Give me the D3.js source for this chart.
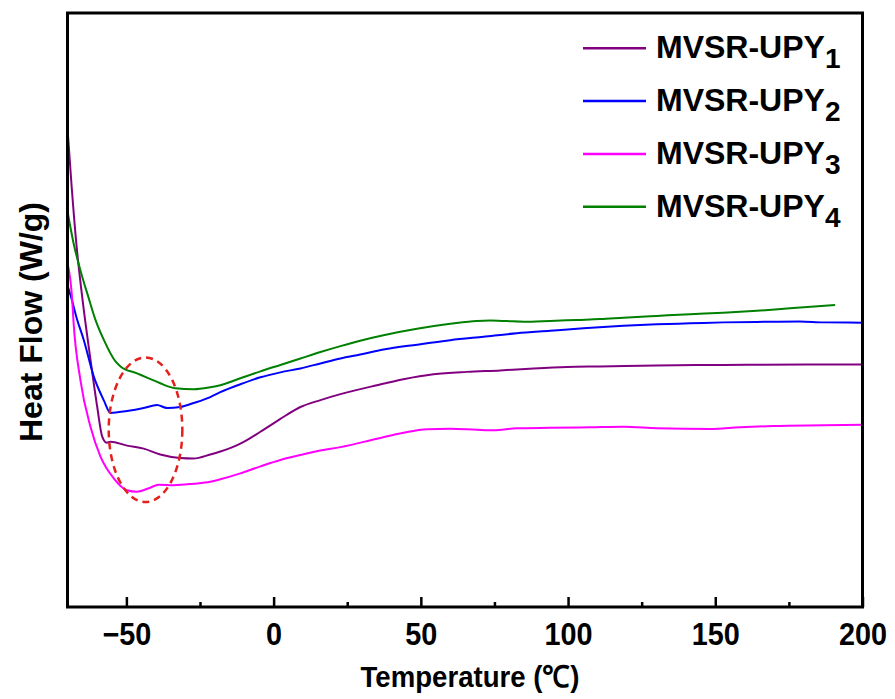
<!DOCTYPE html>
<html>
<head>
<meta charset="utf-8">
<script src="https://cdn.jsdelivr.net/npm/d3@7"></script>
<style>
  body { margin: 0; background: #fff; }
  svg text { font-family: Arial, "Liberation Sans", sans-serif; font-weight: bold; fill: #000; }
</style>
</head>
<body>
<svg id="chart" width="895" height="699"></svg>
<script>
// ---- data (Temperature °C, Heat Flow in arbitrary W/g units) ----
const seriesNames = ["MVSR-UPY", "MVSR-UPY", "MVSR-UPY", "MVSR-UPY"];
const seriesSubs = ["1", "2", "3", "4"];
const seriesColors = ["#800080", "#0000ff", "#ff00ff", "#008000"];

const upy1 = [
  [-69.8,4.75],[-68.6,4.25],[-66.9,3.64],[-65.0,3.13],[-62.2,2.50],[-59.9,2.02],[-58.2,1.72],
  [-56.7,1.66],[-55.4,1.67],[-49.8,1.63],[-44.1,1.60],[-38.5,1.54],[-31.7,1.505],[-27.2,1.50],
  [-21.5,1.54],[-18.1,1.57],[-11.3,1.65],[-4.5,1.77],[2.3,1.90],[9.1,2.02],
  [15.9,2.09],[22.7,2.15],[35.1,2.24],[44.1,2.30],[54.3,2.35],[65.6,2.375],
  [77.0,2.39],[88.3,2.41],[99.6,2.425],[110.9,2.43],[130.1,2.44],[152.7,2.445],[181.1,2.45],[200,2.45]
];
const upy2 = [
  [-69.8,3.23],[-68.5,3.10],[-66.9,2.92],[-64.5,2.70],[-61.1,2.33],[-57.7,2.09],
  [-55.4,1.96],[-49.8,1.98],[-44.1,2.01],[-39.6,2.04],[-36.2,2.01],[-31.7,2.02],[-27.2,2.06],
  [-21.5,2.12],[-18.1,2.17],[-11.3,2.25],[-4.5,2.32],[2.3,2.37],[9.1,2.41],[15.9,2.46],
  [22.7,2.51],[29.4,2.55],[37.3,2.60],[48.7,2.65],[60.0,2.695],[71.3,2.73],[82.6,2.765],
  [93.9,2.79],[105.2,2.815],[118.8,2.84],[130.1,2.855],[141.4,2.865],[152.7,2.875],[164.1,2.88],
  [178.7,2.885],[186.7,2.875],[200,2.872]
];
const upy3 = [
  [-69.9,3.46],[-68.4,3.10],[-68.0,2.90],[-65.6,2.29],[-62.2,1.82],[-58.8,1.52],[-54.3,1.30],
  [-49.8,1.18],[-46.4,1.165],[-42.4,1.20],[-39.0,1.235],[-33.9,1.23],[-27.2,1.245],[-21.5,1.265],
  [-18.1,1.29],[-11.3,1.35],[-4.5,1.42],[2.3,1.485],[9.1,1.535],[15.9,1.58],[22.7,1.615],
  [35.1,1.70],[44.1,1.76],[52.1,1.795],[60.0,1.80],[69.0,1.79],[74.7,1.785],
  [82.6,1.805],[93.9,1.81],[107.5,1.815],[118.8,1.82],[130.1,1.805],[148.2,1.797],[158.4,1.815],
  [169.7,1.828],[186.7,1.835],[200,1.84]
];
const upy4 = [
  [-69.9,3.98],[-67.9,3.67],[-65.6,3.40],[-62.8,3.12],[-60.5,2.90],[-57.7,2.70],[-53.7,2.48],
  [-52.0,2.43],[-46.4,2.36],[-42.4,2.31],[-38.5,2.26],[-33.4,2.21],[-27.2,2.20],[-21.5,2.22],
  [-18.1,2.24],[-11.3,2.31],[-4.5,2.38],[2.3,2.445],[9.1,2.51],[15.9,2.575],[22.7,2.635],
  [29.4,2.69],[37.3,2.745],[48.7,2.81],[60.0,2.86],[69.0,2.89],[73.6,2.893],[79.2,2.888],
  [84.9,2.882],[93.9,2.89],[103.0,2.90],[110.9,2.908],[118.8,2.922],[130.1,2.94],[141.4,2.958],
  [152.7,2.973],[164.1,2.992],[175.4,3.017],[190.7,3.05]
];
const allSeries = [upy1, upy2, upy3, upy4];

const xTicks = [-50, 0, 50, 100, 150, 200];
const xMinorTicks = [-25, 25, 75, 125, 175];
const xDomain = [-70, 200];
const yDomain = [0, 6];
// highlighted region (dashed ellipse): center T, center HF, half-width T, half-height HF
const ellipseInfo = [-43.5, 1.79, 12.5, 0.73];

// ---- layout ----
const mLeft = 67.5, mRight = 862.5, mTop = 13, mBottom = 607;
const svg = d3.select("#chart");
const x = d3.scaleLinear().domain(xDomain).range([mLeft, mRight]);
const y = d3.scaleLinear().domain(yDomain).range([mBottom, mTop]);

// curves
const line = d3.line().x(d => x(d[0])).y(d => y(d[1])).curve(d3.curveMonotoneX);
svg.append("g").selectAll("path").data(allSeries).join("path")
  .attr("d", line)
  .attr("fill", "none")
  .attr("stroke", (d, i) => seriesColors[i])
  .attr("stroke-width", 2)
  .attr("stroke-linejoin", "round");

// dashed ellipse
svg.append("ellipse")
  .attr("cx", x(ellipseInfo[0]))
  .attr("cy", y(ellipseInfo[1]))
  .attr("rx", x(ellipseInfo[0] + ellipseInfo[2]) - x(ellipseInfo[0]))
  .attr("ry", y(ellipseInfo[1] - ellipseInfo[3]) - y(ellipseInfo[1]))
  .attr("fill", "none")
  .attr("stroke", "#e3201b")
  .attr("stroke-width", 2.5)
  .attr("stroke-dasharray", "7,5");

// frame
svg.append("rect")
  .attr("x", mLeft).attr("y", mTop)
  .attr("width", mRight - mLeft).attr("height", mBottom - mTop)
  .attr("fill", "none").attr("stroke", "#000").attr("stroke-width", 3);

// x axis: major ticks (inward), minor ticks
const xAxis = d3.axisBottom(x).tickValues(xTicks).tickSizeInner(-10).tickSizeOuter(0)
  .tickFormat(d3.format("d")).tickPadding(16);
const gx = svg.append("g").attr("transform", `translate(0,${mBottom})`).call(xAxis);
gx.select(".domain").remove();
gx.selectAll(".tick line").attr("stroke", "#000").attr("stroke-width", 2.5);
gx.selectAll(".tick text").style("font-size", "31px").attr("dy", "0.71em")
  .style("font-family", 'Arial, "Liberation Sans", sans-serif').style("font-weight", "bold")
  .attr("transform", "scale(0.93,1)");
// keep labels centred on ticks after horizontal condensing
gx.selectAll(".tick text").attr("x", 0);

const xMinor = d3.axisBottom(x).tickValues(xMinorTicks).tickSizeInner(-5).tickSizeOuter(0).tickFormat("");
const gxm = svg.append("g").attr("transform", `translate(0,${mBottom})`).call(xMinor);
gxm.select(".domain").remove();
gxm.selectAll(".tick line").attr("stroke", "#000").attr("stroke-width", 2.5);

// axis titles
svg.append("text")
  .attr("transform", `translate(${(mLeft + mRight) / 2 + 5},687) scale(0.92,1)`)
  .attr("text-anchor", "middle").style("font-size", "30px")
  .text("Temperature (℃)");
svg.append("text")
  .attr("transform", `translate(42,${(mTop + mBottom) / 2 + 12}) rotate(-90)`)
  .attr("text-anchor", "middle").style("font-size", "32px")
  .text("Heat Flow (W/g)");

// legend
const lg = svg.append("g");
const rows = lg.selectAll("g").data(seriesNames).join("g")
  .attr("transform", (d, i) => `translate(0,${48.3 + i * 52.8})`);
rows.append("line").attr("x1", 583).attr("x2", 646).attr("y1", 0).attr("y2", 0)
  .attr("stroke", (d, i) => seriesColors[i]).attr("stroke-width", 2.5);
const lt = rows.append("text").attr("x", 656).attr("y", 10).style("font-size", "32px");
lt.append("tspan").text(d => d);
lt.append("tspan").attr("dy", 10).style("font-size", "28px").text((d, i) => seriesSubs[i]);
</script>
</body>
</html>
